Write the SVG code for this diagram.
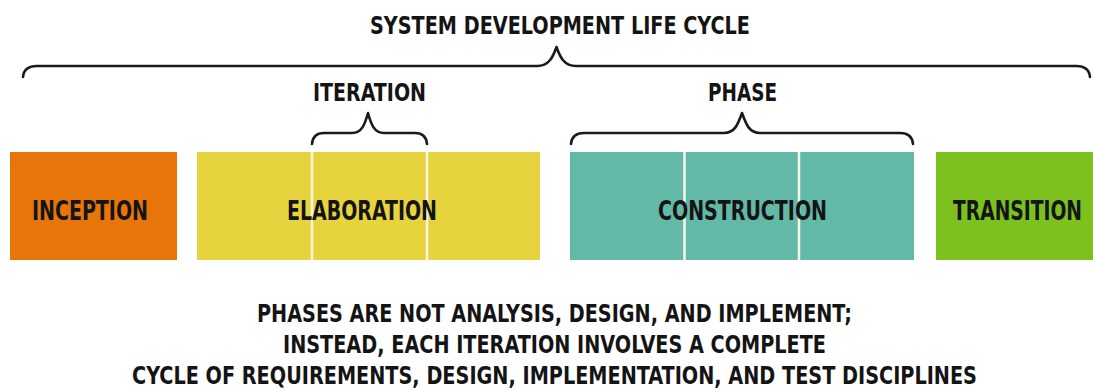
<svg xmlns="http://www.w3.org/2000/svg" width="1093" height="391" viewBox="0 0 1093 391">
<style>
.t{font-family:"DejaVu Sans Condensed","DejaVu Sans","Liberation Sans",sans-serif;font-weight:bold;fill:#141414;font-size:25px}
.lb{font-size:26px}
.br{fill:none;stroke:#1a1a1a;stroke-width:2.6;stroke-linecap:round;stroke-linejoin:round}
.dv{stroke:#fbf7e6;stroke-width:2.5}
</style>
<rect width="1093" height="391" fill="#ffffff"/>
<g id="title">
<text class="t" x="370" y="33.5" textLength="380" lengthAdjust="spacingAndGlyphs">SYSTEM DEVELOPMENT LIFE CYCLE</text>
</g>
<g id="connectors">
<path class="br" d="M23,77 Q24,66 37,66 L537,66 C549,66 553,57 556.5,47 C560,57 564,66 576,66 L1076,66 Q1089,66 1090,77"/>
<path class="br" d="M312,144 Q313,133 324,133 L352,133 C362,133 365,124 368,113 C371,124 374,133 384,133 L415,133 Q426,133 427,144"/>
<path class="br" d="M571,144 Q572,133 584,133 L724,133 C735,133 738,124 742,113 C746,124 749,133 760,133 L900,133 Q912,133 913,144"/>
</g>
<g id="iteration-label">
<text class="t" x="313" y="101" textLength="113" lengthAdjust="spacingAndGlyphs">ITERATION</text>
</g>
<g id="phase-label">
<text class="t" x="708" y="101" textLength="69" lengthAdjust="spacingAndGlyphs">PHASE</text>
</g>
<g id="inception">
<rect x="10" y="152" width="167" height="108" fill="#e8750a"/>
<text class="t lb" x="32" y="219.5" textLength="116" lengthAdjust="spacingAndGlyphs">INCEPTION</text>
</g>
<g id="elaboration">
<rect x="197" y="152" width="343" height="108" fill="#e7d33e"/>
<line class="dv" x1="312" y1="152" x2="312" y2="260"/>
<line class="dv" x1="427" y1="152" x2="427" y2="260"/>
<text class="t lb" x="287" y="219.5" textLength="150" lengthAdjust="spacingAndGlyphs">ELABORATION</text>
</g>
<g id="construction">
<rect x="570" y="152" width="344" height="108" fill="#63b9a7"/>
<line class="dv" x1="684.5" y1="152" x2="684.5" y2="260"/>
<line class="dv" x1="799" y1="152" x2="799" y2="260"/>
<text class="t lb" x="658" y="219.5" textLength="169" lengthAdjust="spacingAndGlyphs">CONSTRUCTION</text>
</g>
<g id="transition">
<rect x="936" y="152" width="157" height="108" fill="#7dc11f"/>
<text class="t lb" transform="translate(953,219.5) scale(0.8,1)" x="0" y="0" textLength="161.25" lengthAdjust="spacingAndGlyphs">TRANSITION</text>
</g>
<g id="caption">
<text class="t" x="257" y="322" textLength="595" lengthAdjust="spacingAndGlyphs">PHASES ARE NOT ANALYSIS, DESIGN, AND IMPLEMENT;</text>
<text class="t" x="283" y="353" textLength="543" lengthAdjust="spacingAndGlyphs">INSTEAD, EACH ITERATION INVOLVES A COMPLETE</text>
<text class="t" transform="translate(132,384) scale(0.85,1)" x="0" y="0" textLength="994.1" lengthAdjust="spacingAndGlyphs">CYCLE OF REQUIREMENTS, DESIGN, IMPLEMENTATION, AND TEST DISCIPLINES</text>
</g>
</svg>
